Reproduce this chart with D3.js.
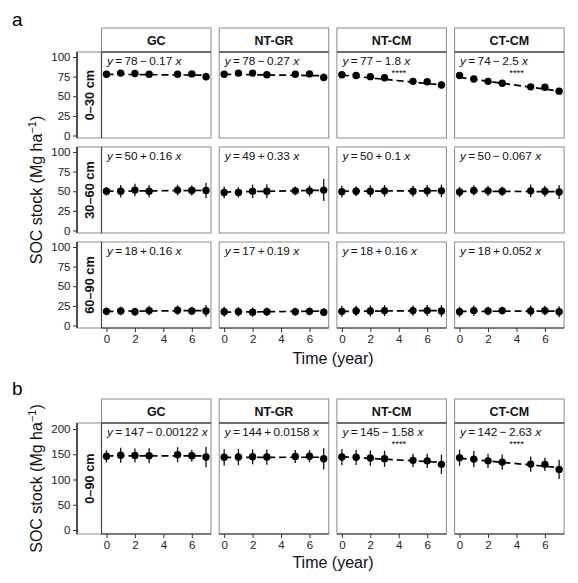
<!DOCTYPE html>
<html>
<head>
<meta charset="utf-8">
<script src="https://cdn.jsdelivr.net/npm/d3@7"></script>
<style>
  html, body { margin: 0; padding: 0; background: #fff; }
  svg { display: block; font-family: "Liberation Sans", Arial, Helvetica, sans-serif; }
</style>
</head>
<body>
<svg id="chart" width="578" height="583"></svg>
<script>
// ---------------- DATA ----------------
const years = [0, 1, 2, 3, 5, 6, 7];
const treatments = ["GC", "NT-GR", "NT-CM", "CT-CM"];
const depthsA = ["0–30 cm", "30–60 cm", "60–90 cm"];
const depthB = "0–90 cm";
const xTicks = [0, 2, 4, 6];
const yTicksA = [0, 25, 50, 75, 100];
const yTicksB = [0, 50, 100, 150, 200];

// mean SOC stock (Mg ha-1), one array per treatment (GC, NT-GR, NT-CM, CT-CM)
const mean0_30 = [
  [78, 79.5, 79, 78, 78, 78.5, 75],
  [78, 79.5, 79.5, 77.5, 78, 78.5, 74],
  [77.5, 76.5, 75, 73.5, 69, 68.5, 64.5],
  [76.5, 72, 69, 66.5, 62, 61.5, 56.5]
];
const sd0_30 = [
  [1.5, 1.5, 1.5, 1.5, 1.5, 1.5, 5],
  [1.5, 1.5, 1.5, 1.5, 1.5, 2, 5],
  [2, 1.5, 1.5, 1.5, 2, 2, 5],
  [2, 1.5, 1.5, 2, 2, 2, 2.5]
];
const mean30_60 = [
  [50, 50, 51.5, 50, 51.5, 51, 51],
  [48.5, 48.5, 50, 50, 50.5, 50.5, 51.5],
  [49.5, 50, 50, 50.5, 50, 50.5, 50.5],
  [49, 51, 50.5, 50, 50.5, 50, 49]
];
const sd30_60 = [
  [5.5, 8, 8, 8, 7, 6.5, 9.5],
  [7.5, 6.5, 8.5, 9, 5.5, 7, 14],
  [7.5, 6.5, 7.5, 7.5, 7, 7.5, 8],
  [6.5, 6.5, 6.5, 6, 8, 7, 9]
];
const mean60_90 = [
  [18, 18.5, 17.5, 19, 19.5, 18.5, 18.5],
  [17.5, 17.5, 17, 17.5, 17.5, 18, 17],
  [18, 18.5, 18.5, 19, 19, 19, 18.5],
  [17.5, 19, 18.5, 19, 18.5, 19, 17.5]
];
const sd60_90 = [
  [5, 5.5, 5, 6, 6, 5, 7.5],
  [6.5, 6, 6, 5.5, 5, 5, 5],
  [7, 6.5, 7, 7, 6.5, 7, 7.5],
  [6.5, 6.5, 5.5, 5, 7, 6, 7]
];
const mean0_90 = [
  [146, 148, 147.5, 147, 149, 147, 144.5],
  [144, 144.5, 145, 144.5, 145.5, 146, 141],
  [144.5, 144, 142.5, 141, 138, 137, 130],
  [143, 140.5, 137, 134.5, 130.5, 130, 120]
];
const sd0_90 = [
  [12, 15, 14, 15, 15, 12, 20],
  [16, 16, 15, 15, 13, 12, 21],
  [16, 15, 15, 16, 13, 14, 19],
  [16, 16, 14, 15, 15, 13, 19]
];

// fitted regression (as printed in each panel)
const int0_30 = [78, 78, 77, 74];      const slope0_30 = [-0.17, -0.27, -1.8, -2.5];
const int30_60 = [50, 49, 50, 50];     const slope30_60 = [0.16, 0.33, 0.1, -0.067];
const int60_90 = [18, 17, 18, 18];     const slope60_90 = [0.16, 0.19, 0.16, 0.052];
const int0_90 = [147, 144, 145, 142];  const slope0_90 = [-0.00122, 0.0158, -1.58, -2.63];
const stars0_30 = ["", "", "****", "****"];
const stars0_90 = ["", "", "****", "****"];

// ---------------- LAYOUT ----------------
const svg = d3.select("#chart");
const colX0 = 101.5, colStep = 117.7, panelW = 109.5;
const stripL = 77;   // left strip / axis position
const stripH = 24;
const axisColor = "#333";
const textColor = "#222";
const tickFont = 11.5;

const x = d3.scaleLinear().domain([-0.35, 7.35]);

function drawColumnStrips(top) {
  treatments.forEach((t, i) => {
    const x0 = colX0 + i * colStep;
    svg.append("rect").attr("x", x0).attr("y", top).attr("width", panelW).attr("height", stripH)
      .attr("fill", "#fff").attr("stroke", "#8c8c8c").attr("stroke-width", 1);
    svg.append("text").attr("x", x0 + panelW / 2).attr("y", top + stripH / 2 + 4.5)
      .attr("text-anchor", "middle").attr("font-weight", "bold").attr("font-size", 12.5)
      .attr("fill", "#111").text(t);
  });
}

function eqLabel(sel, b0, b1) {
  const th = "\u2009";
  sel.append("tspan").attr("font-style", "italic").text("y");
  sel.append("tspan").text(th + "=" + th + b0 + th + (b1 < 0 ? "−" : "+") + th + String(Math.abs(b1)) + " ");
  sel.append("tspan").attr("font-style", "italic").text("x");
}

function drawRow(top, h, yDomain, yTicks, depthLabel, means, sds, ints, slopes, stars, showX) {
  const y = d3.scaleLinear().domain(yDomain).range([top + h, top]);
  // left strip
  svg.append("rect").attr("x", stripL).attr("y", top).attr("width", colX0 - stripL).attr("height", h)
    .attr("fill", "#fff").attr("stroke", "#8c8c8c").attr("stroke-width", 1);
  svg.append("text")
    .attr("transform", `translate(${(stripL + colX0) / 2 + 4.5},${top + h / 2}) rotate(-90)`)
    .attr("text-anchor", "middle").attr("font-weight", "bold").attr("font-size", 12.8)
    .attr("fill", "#111").text(depthLabel);
  // y axis
  const yAxis = d3.axisLeft(y).tickValues(yTicks).tickSize(4).tickPadding(2.5);
  const gy = svg.append("g").attr("transform", `translate(${stripL},0)`).call(yAxis);
  gy.select(".domain").attr("stroke", axisColor).attr("d", `M0,${top}V${top + h}`);
  gy.selectAll(".tick line").attr("stroke", axisColor);
  gy.selectAll(".tick text").attr("fill", textColor).attr("font-size", tickFont)
    .attr("font-family", "Liberation Sans, Arial, sans-serif");

  treatments.forEach((t, i) => {
    const x0 = colX0 + i * colStep;
    const xs = x.copy().range([x0, x0 + panelW]);
    const g = svg.append("g");
    g.append("rect").attr("x", x0).attr("y", top).attr("width", panelW).attr("height", h)
      .attr("fill", "#fff").attr("stroke", "#8c8c8c").attr("stroke-width", 1);
    // regression line
    const fit = [0, 7].map(v => [v, ints[i] + slopes[i] * v]);
    g.append("path").attr("d", d3.line().x(d => xs(d[0])).y(d => y(d[1]))(fit))
      .attr("stroke", "#000").attr("stroke-width", 1.7).attr("stroke-dasharray", "7,4").attr("fill", "none");
    // error bars
    years.forEach((yr, k) => {
      g.append("line").attr("x1", xs(yr)).attr("x2", xs(yr))
        .attr("y1", y(means[i][k] - sds[i][k])).attr("y2", y(means[i][k] + sds[i][k]))
        .attr("stroke", "#111").attr("stroke-width", 1.3);
    });
    // points
    g.selectAll("circle").data(years).join("circle")
      .attr("cx", d => xs(d)).attr("cy", (d, k) => y(means[i][k])).attr("r", 3.7).attr("fill", "#000");
    // equation label
    const lab = g.append("text").attr("x", x0 + 5.5).attr("y", top + 13)
      .attr("font-size", 11.8).attr("fill", "#111");
    eqLabel(lab, ints[i], slopes[i]);
    if (stars && stars[i]) {
      g.append("text").attr("x", x0 + 62).attr("y", top + 24).attr("text-anchor", "middle")
        .attr("font-size", 9.5).attr("fill", "#111").text(stars[i]);
    }
    // x axis
    if (showX) {
      const gx = svg.append("g").attr("transform", `translate(0,${top + h})`)
        .call(d3.axisBottom(xs).tickValues(xTicks).tickSize(4).tickPadding(3));
      gx.select(".domain").attr("stroke", axisColor).attr("d", `M${x0},0H${x0 + panelW}`);
      gx.selectAll(".tick line").attr("stroke", axisColor);
      gx.selectAll(".tick text").attr("fill", textColor).attr("font-size", tickFont)
        .attr("font-family", "Liberation Sans, Arial, sans-serif");
    }
  });
  // dark left edge of first panel and axis line
  svg.append("line").attr("x1", colX0).attr("x2", colX0).attr("y1", top).attr("y2", top + h)
    .attr("stroke", "#444").attr("stroke-width", 1.2);
  svg.append("line").attr("x1", stripL).attr("x2", stripL).attr("y1", top).attr("y2", top + h)
    .attr("stroke", axisColor).attr("stroke-width", 1.2);
}

function yTitle(cx, cy) {
  const t = svg.append("text").attr("transform", `translate(${cx},${cy}) rotate(-90)`)
    .attr("text-anchor", "middle").attr("font-size", 16).attr("fill", "#111");
  t.append("tspan").text("SOC stock (Mg ha");
  t.append("tspan").attr("dy", -6).attr("font-size", 11).text("−1");
  t.append("tspan").attr("dy", 6).text(")");
}

// ---------------- PANEL a ----------------
svg.append("text").attr("x", 12).attr("y", 26).attr("font-size", 19).attr("fill", "#000").text("a");
drawColumnStrips(28);
const rowTopsA = [52, 147, 242];
const rowH = 86;
const yDomA = [-3.2, 106.4];
drawRow(rowTopsA[0], rowH, yDomA, yTicksA, depthsA[0], mean0_30, sd0_30, int0_30, slope0_30, stars0_30, false);
drawRow(rowTopsA[1], rowH, yDomA, yTicksA, depthsA[1], mean30_60, sd30_60, int30_60, slope30_60, null, false);
drawRow(rowTopsA[2], rowH, yDomA, yTicksA, depthsA[2], mean60_90, sd60_90, int60_90, slope60_90, null, true);
// strip bottom dark line
svg.append("g").selectAll("line").data(treatments).join("line")
  .attr("x1", (d, i) => colX0 + i * colStep).attr("x2", (d, i) => colX0 + i * colStep + panelW)
  .attr("y1", 52).attr("y2", 52).attr("stroke", "#555").attr("stroke-width", 1.3);
yTitle(42, (52 + 328) / 2);
svg.append("text").attr("x", 333).attr("y", 364).attr("text-anchor", "middle")
  .attr("font-size", 16).attr("fill", "#111").text("Time (year)");

// ---------------- PANEL b ----------------
svg.append("text").attr("x", 12).attr("y", 395).attr("font-size", 19).attr("fill", "#000").text("b");
drawColumnStrips(399);
drawRow(423, 111, [-8, 212], yTicksB, depthB, mean0_90, sd0_90, int0_90, slope0_90, stars0_90, true);
svg.append("g").selectAll("line").data(treatments).join("line")
  .attr("x1", (d, i) => colX0 + i * colStep).attr("x2", (d, i) => colX0 + i * colStep + panelW)
  .attr("y1", 423).attr("y2", 423).attr("stroke", "#555").attr("stroke-width", 1.3);
yTitle(42, (423 + 534) / 2);
svg.append("text").attr("x", 333).attr("y", 568).attr("text-anchor", "middle")
  .attr("font-size", 16).attr("fill", "#111").text("Time (year)");
</script>
</body>
</html>
